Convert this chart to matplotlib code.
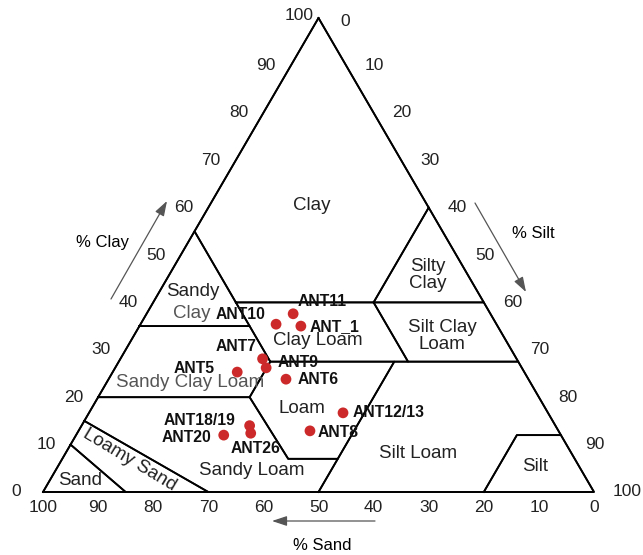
import numpy as np
import matplotlib
matplotlib.use("Agg")
import matplotlib.pyplot as plt

plt.rcParams['font.family'] = ['Liberation Sans', 'DejaVu Sans']

# samples (sand, silt, clay in %)
names = ['ANT11', 'ANT_1', 'ANT10', 'ANT7', 'ANT9', 'ANT5', 'ANT6',
         'ANT12/13', 'ANT8', 'ANT18/19', 'ANT26', 'ANT20']
sand = [35.8, 35.7, 40.0, 46.1, 46.4, 52.1, 44.0, 37.2, 45.1, 55.5, 56.1, 61.2]
silt = [26.6, 29.3, 24.6, 25.8, 27.4, 22.6, 32.2, 46.1, 42.0, 30.5, 31.5, 26.8]
clay = [37.6, 35.0, 35.4, 28.1, 26.2, 25.3, 23.8, 16.7, 12.9, 14.0, 12.4, 12.0]

# label offsets in pixels (dx, dy) and alignment
lab_off = [(29, 12), (9, 0), (-11, 10), (-6, 12), (11, 5), (-22, 4), (12, 0),
           (10, 0), (8, -2), (-14, 5), (5, -15), (-12, -2)]
lab_ha = ['center', 'left', 'right', 'right', 'left', 'right', 'left',
          'left', 'left', 'right', 'center', 'right']

# USDA texture classes, vertices as (sand, silt, clay)
classes = {
    'Clay': [(0, 0, 100), (45, 0, 55), (45, 15, 40), (20, 40, 40), (0, 40, 60)],
    'Sandy Clay': [(65, 0, 35), (45, 0, 55), (45, 20, 35)],
    'Silty Clay': [(0, 40, 60), (20, 40, 40), (0, 60, 40)],
    'Clay Loam': [(45, 15, 40), (20, 40, 40), (20, 52.5, 27.5), (45, 27.5, 27.5)],
    'Silty Clay Loam': [(20, 40, 40), (0, 60, 40), (0, 72.5, 27.5), (20, 52.5, 27.5)],
    'Sandy Clay Loam': [(65, 0, 35), (45, 20, 35), (45, 27.5, 27.5), (52.5, 27.5, 20), (80, 0, 20)],
    'Loam': [(45, 27.5, 27.5), (22.5, 50, 27.5), (43, 50, 7), (52, 41, 7), (52.5, 27.5, 20)],
    'Silt Loam': [(50, 50, 0), (20, 80, 0), (8, 80, 12), (0, 88, 12), (0, 72.5, 27.5), (22.5, 50, 27.5), (43, 50, 7)],
    'Silt': [(20, 80, 0), (0, 100, 0), (0, 88, 12), (8, 80, 12)],
    'Sandy Loam': [(80, 0, 20), (52.5, 27.5, 20), (52, 41, 7), (43, 50, 7), (50, 50, 0), (70, 30, 0), (85, 0, 15)],
    'Loamy Sand': [(85, 0, 15), (70, 30, 0), (85, 15, 0), (90, 0, 10)],
    'Sand': [(90, 0, 10), (85, 15, 0), (100, 0, 0)],
}

# class label positions (silt, clay), text, rotation, colour
class_labels = [
    (18.6, 60.5, 'Clay', 0, '#222222'),
    (47.0, 45.8, 'Silty\nClay', 0, '#222222'),
    (6.1, 42.2, 'Sandy', 0, '#222222'),
    (8.2, 37.6, 'Clay', 0, '#555555'),
    (33.9, 31.9, 'Clay Loam', 0, '#222222'),
    (56.0, 32.9, 'Silt Clay\nLoam', 0, '#222222'),
    (15.2, 23.0, 'Sandy Clay Loam', 0, '#555555'),
    (38.2, 17.7, 'Loam', 0, '#222222'),
    (64.0, 8.2, 'Silt Loam', 0, '#222222'),
    (35.6, 4.6, 'Sandy Loam', 0, '#222222'),
    (12.4, 6.8, 'Loamy Sand', -31, '#222222'),
    (5.5, 2.5, 'Sand', 0, '#222222'),
    (86.6, 5.3, 'Silt', 0, '#222222'),
]

ticks = [0, 10, 20, 30, 40, 50, 60, 70, 80, 90, 100]


def tern(si, cl):
    return si + cl / 2.0, cl


W, H = 643, 555
fig = plt.figure(figsize=(W / 100, H / 100), dpi=100)
ax = fig.add_axes([0, 0, 1, 1])
ax.axis('off')
# pixel mapping: X=0 -> 43 px, X=100 -> 594 px ; clay 0 -> 492 px from top, clay 100 -> 18
sx = (594 - 43) / 100.0
sy = (492 - 18) / 100.0
ax.set_xlim(-43 / sx, (W - 43) / sx)
ax.set_ylim(-(H - 492) / sy, 492 / sy)


def pix(x, y):
    # picture pixel (from top-left) -> data coords, for decorations only
    return (x - 43) / sx, (492 - y) / sy


PT = 0.72  # points per pixel

# outer triangle
tri = [(100, 0, 0), (0, 100, 0), (0, 0, 100), (100, 0, 0)]
tx, ty = zip(*[tern(s2, c2) for s1, s2, c2 in tri])
ax.plot(tx, ty, color='black', lw=1.3, solid_joinstyle='miter')

for nm, verts in classes.items():
    pts = [tern(v[1], v[2]) for v in verts] + [tern(verts[0][1], verts[0][2])]
    px, py = zip(*pts)
    ax.plot(px, py, color='black', lw=1.3)

for si, cl, txt, rot, col in class_labels:
    x, y = tern(si, cl)
    ax.text(x, y, txt, ha='center', va='center', fontsize=13.5, rotation=rot,
            color=col, linespacing=1.0)

# tick labels
for t in ticks:
    # clay on the left edge
    x, y = tern(0, t)
    off = {0: -22, 100: -5}.get(t, -15)
    ax.annotate(str(t), (x, y), xytext=(off * PT, 2 * PT if t == 100 else 0),
                textcoords='offset points',
                ha='right', va='center', fontsize=12.5, color='#222222')
    # silt on the right edge
    x, y = tern(t, 100 - t)
    ax.annotate(str(t), (x, y), xytext=(19 * PT if t else 22 * PT, -3 * PT if t == 0 else 0),
                textcoords='offset points',
                ha='left', va='center', fontsize=12.5, color='#222222')
    # sand on the bottom edge
    x, y = tern(100 - t, 0)
    ax.annotate(str(t), (x, y), xytext=(0, -16 * PT), textcoords='offset points',
                ha='center', va='center', fontsize=12.5, color='#222222')

# axis titles with arrows
arr = dict(arrowstyle='-|>,head_length=0.9,head_width=0.3', color='#555555', lw=0.9,
           shrinkA=0, shrinkB=0)
ax.annotate('', xy=pix(167, 201), xytext=pix(111, 299), arrowprops=arr)
ax.text(*pix(102, 242), '% Clay', ha='center', va='center', fontsize=12)
ax.annotate('', xy=pix(526, 292), xytext=pix(475, 203), arrowprops=arr)
ax.text(*pix(533, 233), '% Silt', ha='center', va='center', fontsize=12)
ax.annotate('', xy=pix(272, 521), xytext=pix(375, 521), arrowprops=arr)
ax.text(*pix(322, 546), '% Sand', ha='center', va='center', fontsize=12)

# samples
X = [s + c / 2.0 for s, c in zip(silt, clay)]
ax.scatter(X, clay, s=60, color='#cc2a2a', zorder=5, edgecolors='none')
for i, nm in enumerate(names):
    dx, dy = lab_off[i]
    ax.annotate(nm, (X[i], clay[i]), xytext=(dx * PT, dy * PT), textcoords='offset points',
                ha=lab_ha[i], va='center', fontsize=11.3, fontweight='bold', color='#111111', zorder=6)

fig.savefig('out.png', dpi=100)
